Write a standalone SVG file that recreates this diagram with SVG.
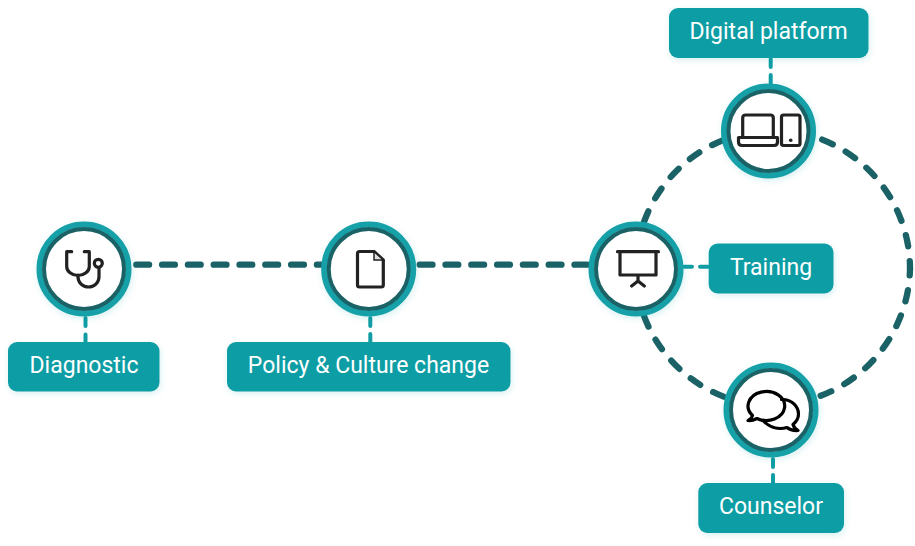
<svg xmlns="http://www.w3.org/2000/svg" width="915" height="546" viewBox="0 0 915 546">
<style>
.bg{fill:#fff}
.main{fill:none;stroke:#1b6267;stroke-width:6.300;stroke-linecap:round;stroke-dasharray:12.800 13}
.ring{fill:none;stroke:#1b6267;stroke-width:6.300;stroke-linecap:round;stroke-dasharray:11.500 14.800}
.sub{fill:none;stroke:#109da4;stroke-width:4;stroke-linecap:round}
.label{fill:#109da4;filter:url(#s)}
.t{font-family:Roboto,"Liberation Sans",sans-serif;font-size:23px;fill:#fff;text-anchor:middle}
.o{fill:#fff;stroke:#13a0a7;stroke-width:6;filter:url(#s)}
.i{fill:none;stroke:#1b6267;stroke-width:4}
.ic{fill:none;stroke:#222;stroke-width:3.200;stroke-linecap:round;stroke-linejoin:round}
</style>
<defs>
<filter id="s" x="-20%" y="-20%" width="140%" height="140%"><feDropShadow dx="1" dy="2" stdDeviation="3" flood-color="#109da4" flood-opacity=".16"/></filter>
</defs>
<rect class="bg" width="915" height="546"/>
<g id="connectors">
<path class="main" d="M136.300 264.700H322"/>
<path class="main" d="M419.700 264.700H590"/>
<path class="ring" d="M644 222A139 139 0 0 1 726 139"/>
<path class="ring" d="M644 316A139 139 0 0 0 726 397.500"/>
<path class="ring" stroke-dashoffset="3.500" d="M910 269A139 139 0 0 0 815 137"/>
<path class="ring" stroke-dashoffset="5" d="M910 269A139 139 0 0 1 816 397.500"/>
<path class="sub" stroke-dasharray="8 8.500" d="M85.500 318V342"/>
<path class="sub" stroke-dasharray="8 8" d="M370.300 318V342"/>
<path class="sub" stroke-dasharray="8 8" d="M770.700 59V83"/>
<path class="sub" stroke-dasharray="8 8" d="M684 266.700H708"/>
<path class="sub" stroke-dasharray="8 8" d="M773 459V483"/>
</g>
<g id="diagnostic">
<rect class="label" x="8" y="342" width="151.500" height="49.500" rx="9"/>
<text class="t" x="84" y="373">Diagnostic</text>
<circle class="o" cx="84" cy="269" r="44.500"/><circle class="i" cx="84" cy="269" r="40"/>
<path class="ic" d="M71.700 251.700H66.700V266.500A11.300 9 0 0 0 89.300 266.500V251.700H84.300M78 275V277A10.500 10 0 0 0 99 277V268"/><circle class="ic" cx="98.300" cy="263.300" r="4"/>
</g>
<g id="policy">
<rect class="label" x="227" y="342" width="283.500" height="49.500" rx="9"/>
<text class="t" x="368.500" y="373">Policy &amp; Culture change</text>
<circle class="o" cx="368.700" cy="269" r="44.500"/><circle class="i" cx="368.700" cy="269" r="40"/>
<path class="ic" d="M374 251.500H359.500Q357.500 251.500 357.500 253.500V285Q357.500 287 359.500 287H381.300Q383.300 287 383.300 285V260Z"/>
<path fill="#ddd" stroke="#222" stroke-width="1.500" d="M374 251.500V260H383.300Z"/>
</g>
<g id="training">
<rect class="label" x="708.700" y="243.500" width="124.800" height="50" rx="9"/>
<text class="t" x="771" y="275">Training</text>
<circle class="o" cx="636" cy="269" r="44.500"/><circle class="i" cx="636" cy="269" r="40"/>
<path class="ic" d="M617.500 251.700H658.500M620 251.700V275H656V251.700M638 275V281M631.700 286L638 281L644.300 286"/>
</g>
<g id="digital">
<rect class="label" x="669" y="8" width="199.500" height="50" rx="9"/>
<text class="t" x="768.500" y="39">Digital platform</text>
<circle class="o" cx="768.500" cy="131" r="44.500"/><circle class="i" cx="768.500" cy="131" r="40"/>
<path class="ic" d="M742.700 137.500V118Q742.700 115 745.700 115H770.300Q773.300 115 773.300 118V137.500M738.500 137.500H777.500V142Q777.500 145.500 774 145.500H742Q738.500 145.500 738.500 142Z"/>
<rect class="ic" x="781.500" y="115" width="18.500" height="30.500" rx="2"/>
<circle cx="790.700" cy="140.300" r="1.800" fill="#222"/>
</g>
<g id="counselor">
<rect class="label" x="698.300" y="483" width="145.700" height="50" rx="9"/>
<text class="t" x="771" y="514">Counselor</text>
<circle class="o" cx="771" cy="410" r="44.500"/><circle class="i" cx="771" cy="410" r="40"/>
<path class="ic" style="stroke:#000" d="M748 420.500Q752 418 752.500 415.500A18.300 14.500 0 1 1 757 418.500Q752 421 748 420.500Z"/>
<path class="ic" style="stroke:#000" d="M781.500 399.500C792 399 798.500 407 798.500 414C798.500 418 796 422 793 424.500Q794 428 798 430.500Q791 431 787 427.500C778 430 769 427 763 420.500"/>
</g>
</svg>
